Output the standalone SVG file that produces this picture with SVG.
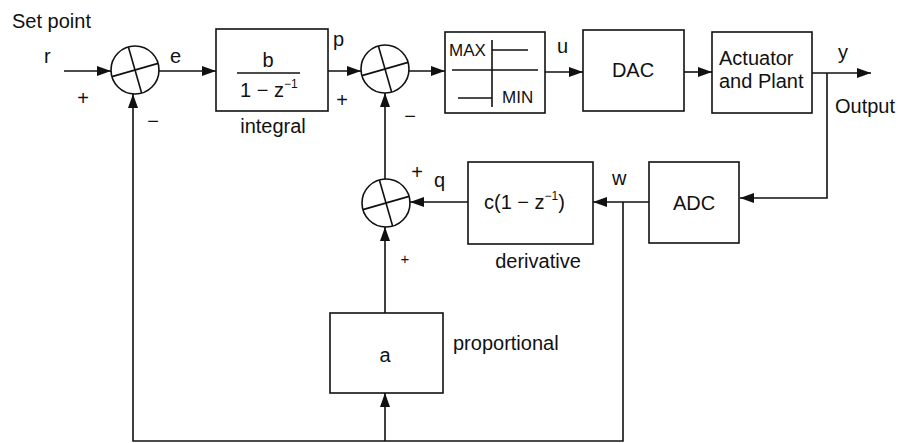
<svg xmlns="http://www.w3.org/2000/svg" width="899" height="443" viewBox="0 0 899 443">
<style>
text{font-family:"Liberation Sans",Arial,sans-serif;font-size:20px;fill:#111}
.sm{font-size:17px}
.sup{font-size:12px}
.box{fill:#fff;stroke:#111;stroke-width:1.6}
.ln{fill:none;stroke:#111;stroke-width:1.6}
.c{text-anchor:middle}
</style>
<defs>
<marker id="ah" markerWidth="14" markerHeight="10" refX="14" refY="5" orient="auto" markerUnits="userSpaceOnUse"><path d="M0,0 L14,5 L0,10 z" fill="#111"/></marker>
<g id="sumsym"><circle r="24" class="box"/><g transform="rotate(-16)"><line x1="-24" y1="0" x2="24" y2="0" class="ln"/><line x1="0" y1="-24" x2="0" y2="24" class="ln"/></g></g>
</defs>
<rect width="899" height="443" fill="#fff"/>
<text x="12" y="28">Set point</text>
<g id="connectors">
<path class="ln" d="M64,71 H111" marker-end="url(#ah)"/>
<path class="ln" d="M159,71 H216" marker-end="url(#ah)"/>
<path class="ln" d="M328,71 H361" marker-end="url(#ah)"/>
<path class="ln" d="M409,71 H445" marker-end="url(#ah)"/>
<path class="ln" d="M545,72 H583" marker-end="url(#ah)"/>
<path class="ln" d="M684,72 H712" marker-end="url(#ah)"/>
<path class="ln" d="M812,73 H871" marker-end="url(#ah)"/>
<path class="ln" d="M827,73 V198 H740" marker-end="url(#ah)"/>
<path class="ln" d="M649,202 H593" marker-end="url(#ah)"/>
<path class="ln" d="M468,202 H410" marker-end="url(#ah)"/>
<path class="ln" d="M385,179 V93" marker-end="url(#ah)"/>
<path class="ln" d="M385,313 V227" marker-end="url(#ah)"/>
<path class="ln" d="M623,202 V441 H133 V94" marker-end="url(#ah)"/>
<path class="ln" d="M385,441 V393" marker-end="url(#ah)"/>
</g>
<g id="sum1"><use href="#sumsym" x="135" y="70"/><text x="44" y="63">r</text><text x="83" y="105" class="c">+</text><text x="153" y="128" class="c">−</text><text x="170" y="63">e</text></g>
<g id="integral"><rect class="box" x="216" y="29" width="112" height="82"/><text x="268" y="67" class="c">b</text><line class="ln" x1="237" y1="73" x2="300" y2="73"/><text x="240" y="97">1 − z<tspan class="sup" dy="-9">−1</tspan></text><text x="273" y="133" class="c">integral</text><text x="333" y="46">p</text></g>
<g id="sum2"><use href="#sumsym" x="385" y="69"/><text x="342" y="107" class="c">+</text><text x="410" y="123" class="c">−</text></g>
<g id="limiter"><rect class="box" x="445" y="32" width="100" height="81"/><text x="449" y="56" class="sm">MAX</text><text x="502" y="103" class="sm">MIN</text><line class="ln" x1="492" y1="40" x2="492" y2="107"/><line class="ln" x1="492" y1="50" x2="528" y2="50"/><line class="ln" x1="452" y1="70" x2="538" y2="70"/><line class="ln" x1="458" y1="98" x2="492" y2="98"/><text x="557" y="53">u</text></g>
<g id="dac"><rect class="box" x="583" y="30" width="101" height="81"/><text x="633" y="77" class="c">DAC</text></g>
<g id="plant"><rect class="box" x="712" y="32" width="100" height="81"/><text x="719" y="65">Actuator</text><text x="719" y="88">and Plant</text><text x="838" y="59">y</text><text x="835" y="113">Output</text></g>
<g id="adc"><rect class="box" x="649" y="162" width="90" height="81"/><text x="694" y="210" class="c">ADC</text></g>
<g id="derivative"><rect class="box" x="468" y="162" width="125" height="82"/><text x="484" y="209">c(1 − z<tspan class="sup" dy="-9">−1</tspan><tspan dy="9">)</tspan></text><text x="538" y="268" class="c">derivative</text><text x="612" y="185">w</text></g>
<g id="sum3"><use href="#sumsym" x="386" y="203"/><text x="417" y="179" class="c">+</text><text x="405" y="264" class="c" style="font-size:15px">+</text><text x="434" y="187">q</text></g>
<g id="proportional"><rect class="box" x="330" y="313" width="113" height="80"/><text x="385" y="362" class="c">a</text><text x="453" y="350">proportional</text></g>
</svg>
